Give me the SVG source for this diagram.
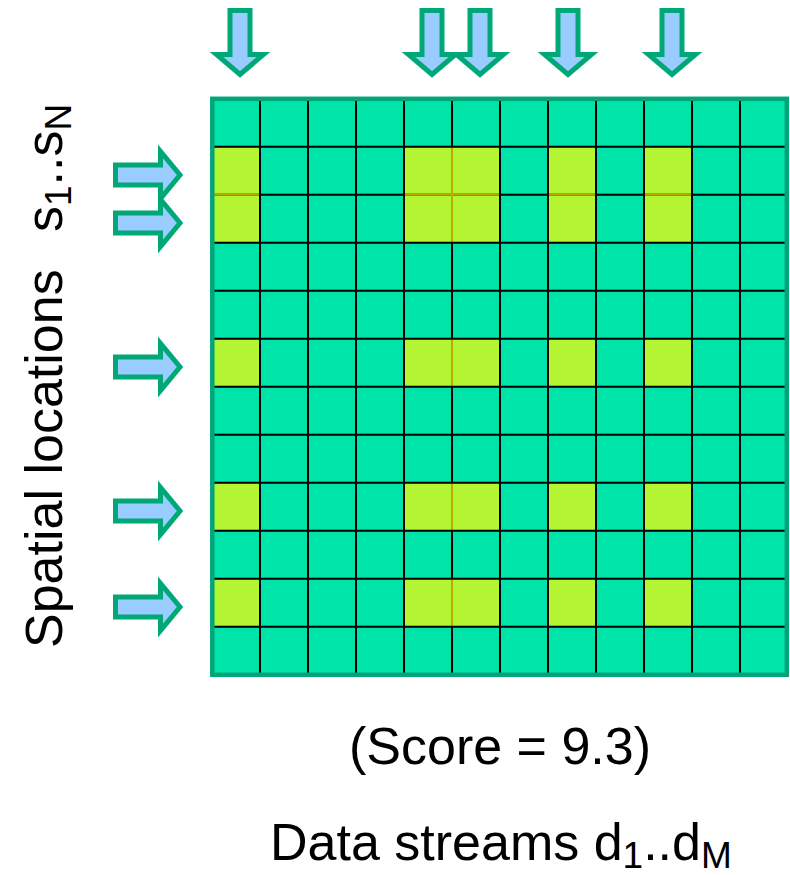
<svg xmlns="http://www.w3.org/2000/svg" width="790" height="875" viewBox="0 0 790 875">
<style>
.arrow{fill:#99CCFF;stroke:#00A878;stroke-width:5;stroke-linejoin:miter}
.teal{fill:#00E3A9}
.yel{fill:#B3F532}
.grid{stroke:#000;stroke-width:2;fill:none}
.olive{stroke:#B8AE00;stroke-width:2;fill:none}
.lbl{font-family:"Liberation Sans",Arial,sans-serif;font-size:52px;fill:#000}
.sub{font-size:37px}
</style>
<defs>
<polygon id="down" class="arrow" points="-10,10.5 10,10.5 10,54.5 23.5,54.5 0,74.5 -23.5,54.5 -10,54.5"/>
<polygon id="right" class="arrow" points="115.5,-10 160.5,-10 160.5,-23.5 180,0 160.5,23.5 160.5,10 115.5,10"/>
</defs>
<g id="matrix">
<rect class="teal" x="212" y="98.7" width="576" height="576"/>
<g id="selected-cells" class="yel">
<rect x="212" y="146.7" width="48" height="96"/>
<rect x="404" y="146.7" width="96" height="96"/>
<rect x="548" y="146.7" width="48" height="96"/>
<rect x="644" y="146.7" width="48" height="96"/>
<rect x="212" y="338.7" width="48" height="48"/>
<rect x="404" y="338.7" width="96" height="48"/>
<rect x="548" y="338.7" width="48" height="48"/>
<rect x="644" y="338.7" width="48" height="48"/>
<rect x="212" y="482.7" width="48" height="48"/>
<rect x="404" y="482.7" width="96" height="48"/>
<rect x="548" y="482.7" width="48" height="48"/>
<rect x="644" y="482.7" width="48" height="48"/>
<rect x="212" y="578.7" width="48" height="48"/>
<rect x="404" y="578.7" width="96" height="48"/>
<rect x="548" y="578.7" width="48" height="48"/>
<rect x="644" y="578.7" width="48" height="48"/>
</g>
<path class="grid" d="M260 98.7V674.7M308 98.7V674.7M356 98.7V674.7M404 98.7V674.7M452 98.7V674.7M500 98.7V674.7M548 98.7V674.7M596 98.7V674.7M644 98.7V674.7M692 98.7V674.7M740 98.7V674.7M212 146.7H788M212 194.7H788M212 242.7H788M212 290.7H788M212 338.7H788M212 386.7H788M212 434.7H788M212 482.7H788M212 530.7H788M212 578.7H788M212 626.7H788"/>
<path class="olive" d="M213 194.7H259M405 194.7H499M549 194.7H595M645 194.7H691M452 147.7V241.7M452 339.7V385.7M452 483.7V529.7M452 579.7V625.7"/>
<rect x="212.3" y="98.8" width="574.5" height="576" fill="none" stroke="#00A578" stroke-width="4.5"/>
</g>
<g id="arrows">
<use href="#down" x="240" y="0"/>
<use href="#down" x="432" y="0"/>
<use href="#down" x="480" y="0"/>
<use href="#down" x="568" y="0"/>
<use href="#down" x="672" y="0"/>
<use href="#right" x="0" y="175"/>
<use href="#right" x="0" y="223"/>
<use href="#right" x="0" y="367"/>
<use href="#right" x="0" y="511"/>
<use href="#right" x="0" y="607"/>
</g>
<g id="labels">
<text class="lbl" transform="translate(62,648) rotate(-90)"><tspan x="0">Spatial locations</tspan><tspan x="416">s</tspan><tspan class="sub" dy="9">1</tspan><tspan dy="-9">..s</tspan><tspan class="sub" dy="9">N</tspan></text>
<text class="lbl" x="500" y="764" text-anchor="middle">(Score = 9.3)</text>
<text class="lbl" x="270" y="860">Data streams d<tspan class="sub" dy="8">1</tspan><tspan dy="-8">..d</tspan><tspan class="sub" dy="8">M</tspan></text>
</g>
</svg>
